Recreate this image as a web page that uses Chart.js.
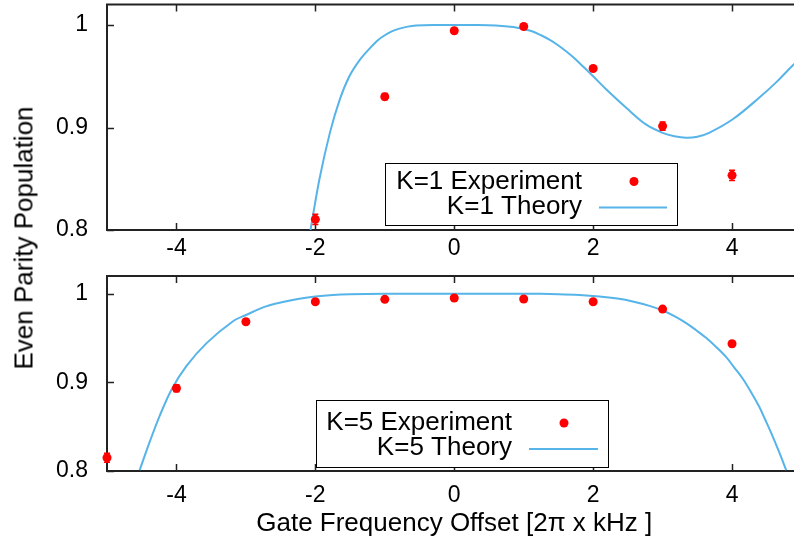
<!DOCTYPE html>
<html><head><meta charset="utf-8">
<script src="https://cdn.jsdelivr.net/npm/chart.js@4"></script>
<style>
html,body{margin:0;padding:0;background:#fff;}
#wrap{position:relative;width:794px;height:542px;overflow:hidden;background:#fff;font-family:"Liberation Sans",Arial,sans-serif;}
#c1{position:absolute;left:0;top:0;}
#c2{position:absolute;left:0;top:262px;}
#ylab{position:absolute;left:24px;top:238px;transform:translate(-50%,-50%) rotate(-90deg);font-size:26px;white-space:nowrap;color:#000;}
</style></head>
<body>
<div id="wrap">
<canvas id="c1" width="806" height="262"></canvas>
<canvas id="c2" width="806" height="280"></canvas>
<div id="ylab">Even Parity Population</div>
</div>
<script>
// ---- data ----
const xTickValues = [-4, -2, 0, 2, 4];
const yTickValues = [0.8, 0.9, 1];
const yTickLabels = ['0.8', '0.9', '1'];

const xExp1 = [-2, -1, 0, 1, 2, 3, 4];
const yExp1 = [0.8104, 0.9301, 0.9944, 0.9985, 0.9576, 0.9014, 0.8533];
const errExp1 = [0.005, 0.003, 0.002, 0.002, 0.002, 0.004, 0.005];

const xTh1 = [-2.07, -1.94, -1.79, -1.65, -1.51, -1.36, -1.22, -1.1, -1.0, -0.9, -0.79, -0.67, -0.55, -0.3, 0, 0.3, 0.6, 0.85, 1.0, 1.13, 1.25, 1.37, 1.49, 1.61, 1.73, 1.85, 2.0, 2.19, 2.48, 2.76, 3.0, 3.17, 3.34, 3.5, 3.67, 4.01, 4.39, 4.65, 4.88, 5.0];
const yTh1 = [0.800, 0.850, 0.895, 0.927, 0.950, 0.966, 0.977, 0.9852, 0.990, 0.9937, 0.9965, 0.9984, 0.9994, 1.0, 1.0, 1.0, 0.9995, 0.998, 0.996, 0.9937, 0.990, 0.9857, 0.9805, 0.9743, 0.9675, 0.9598, 0.950, 0.937, 0.919, 0.903, 0.8948, 0.8915, 0.890, 0.891, 0.8948, 0.908, 0.929, 0.945, 0.961, 0.968];

const xExp5 = [-5, -4, -3, -2, -1, 0, 1, 2, 3, 4];
const yExp5 = [0.815, 0.8934, 0.9684, 0.991, 0.9937, 0.9952, 0.994, 0.991, 0.9827, 0.9435];
const errExp5 = [0.005, 0.004, 0.002, 0.002, 0.002, 0.002, 0.002, 0.002, 0.002, 0.003];

const xTh5 = [-4.53, -4.38, -4.24, -4.07, -3.86, -3.57, -3.19, -2.99, -2.71, -2.45, -2.23, -2.0, -1.75, -1.5, -1, 0, 1, 1.5, 1.8, 2.09, 2.35, 2.57, 2.8, 3.0, 3.17, 3.34, 3.48, 3.63, 3.77, 3.91, 4.03, 4.15, 4.27, 4.39, 4.48, 4.58, 4.68, 4.78];
const yTh5 = [0.801, 0.834, 0.8625, 0.892, 0.918, 0.944, 0.9687, 0.9763, 0.9857, 0.991, 0.9944, 0.997, 0.9987, 0.9995, 1, 1, 1, 0.9995, 0.9987, 0.997, 0.9945, 0.9913, 0.9866, 0.9811, 0.9748, 0.9669, 0.959, 0.950, 0.940, 0.929, 0.917, 0.9047, 0.8895, 0.8727, 0.8575, 0.840, 0.821, 0.801];

const seriesLabels = ['K=1 Experiment', 'K=1 Theory', 'K=5 Experiment', 'K=5 Theory'];

// ---- styles ----
const RED = '#ff0000';
const BLUE = '#56b4e9';
const FONT = '"Liberation Sans", Arial, sans-serif';

const pts = (xs, ys) => xs.map((x, i) => ({x: x, y: ys[i]}));

// frame + inward ticks
const framePlugin = {
  id: 'frame',
  beforeDatasetsDraw(chart) {
    const {ctx, chartArea: a, scales} = chart;
    ctx.save();
    ctx.strokeStyle = '#222';
    ctx.lineWidth = 1.5;
    const L = 7;
    ctx.beginPath();
    xTickValues.forEach(v => {
      const px = Math.round(scales.x.getPixelForValue(v)) + 0.5;
      ctx.moveTo(px, a.bottom); ctx.lineTo(px, a.bottom - L);
      ctx.moveTo(px, a.top); ctx.lineTo(px, a.top + L);
    });
    yTickValues.forEach(v => {
      const py = Math.round(scales.y.getPixelForValue(v)) + 0.5;
      ctx.moveTo(a.left, py); ctx.lineTo(a.left + L, py);
      ctx.moveTo(a.right, py); ctx.lineTo(a.right - L, py);
    });
    ctx.stroke();
    ctx.lineWidth = 2;
    ctx.strokeRect(a.left, a.top, a.right - a.left, a.bottom - a.top);
    ctx.restore();
  }
};

// error bars
const errorPlugin = {
  id: 'errbars',
  afterDatasetsDraw(chart) {
    const {ctx, scales} = chart;
    ctx.save();
    chart.data.datasets.forEach(ds => {
      if (!ds.errors) return;
      ctx.strokeStyle = ds.backgroundColor;
      ctx.lineWidth = 1.5;
      ds.data.forEach((p, i) => {
        const e = ds.errors[i];
        const px = scales.x.getPixelForValue(p.x);
        const y0 = scales.y.getPixelForValue(p.y - e);
        const y1 = scales.y.getPixelForValue(p.y + e);
        ctx.beginPath();
        ctx.moveTo(px, y0); ctx.lineTo(px, y1);
        ctx.moveTo(px - 3, y0); ctx.lineTo(px + 3, y0);
        ctx.moveTo(px - 3, y1); ctx.lineTo(px + 3, y1);
        ctx.stroke();
      });
    });
    ctx.restore();
  }
};

// legend drawn inside plot area
const boxLegendPlugin = {
  id: 'boxLegend',
  afterDatasetsDraw(chart, args, o) {
    const {ctx} = chart;
    const ds = chart.data.datasets;
    ctx.save();
    ctx.fillStyle = '#fff';
    ctx.fillRect(o.box[0], o.box[1], o.box[2] - o.box[0], o.box[3] - o.box[1]);
    ctx.strokeStyle = '#000';
    ctx.lineWidth = 1;
    ctx.strokeRect(o.box[0] + 0.5, o.box[1] + 0.5, o.box[2] - o.box[0], o.box[3] - o.box[1]);
    ctx.font = o.fontSize + 'px ' + FONT;
    ctx.fillStyle = '#000';
    ctx.textAlign = 'right';
    ctx.textBaseline = 'middle';
    ctx.fillText(ds[0].label, o.textRight, o.rows[0]);
    ctx.fillText(ds[1].label, o.textRight, o.rows[1]);
    ctx.fillStyle = ds[0].backgroundColor;
    ctx.beginPath();
    ctx.arc(o.markerX, o.rows[0], 4.5, 0, Math.PI * 2);
    ctx.fill();
    ctx.strokeStyle = ds[1].borderColor;
    ctx.lineWidth = 2;
    ctx.beginPath();
    ctx.moveTo(o.lineX[0], o.rows[1] + 1); ctx.lineTo(o.lineX[1], o.rows[1] + 1);
    ctx.stroke();
    ctx.restore();
  }
};

function makeChart(canvasId, expX, expY, expErr, thX, thY, labA, labB, layoutPad, xAxisH, xTickPad, showTitle, legendOpts) {
  return new Chart(document.getElementById(canvasId), {
    type: 'scatter',
    data: {
      datasets: [
        {label: labA, data: pts(expX, expY), errors: expErr, backgroundColor: RED, borderColor: RED,
         pointRadius: 4.5, pointBorderWidth: 0, pointHoverRadius: 4.5, showLine: false, clip: false, order: 0},
        {label: labB, data: pts(thX, thY), borderColor: BLUE, backgroundColor: BLUE, borderWidth: 2,
         pointRadius: 0, showLine: true, tension: 0.35, clip: 0, order: 1}
      ]
    },
    options: {
      responsive: false,
      animation: false,
      devicePixelRatio: 1,
      layout: {padding: layoutPad},
      plugins: {legend: {display: false}, tooltip: {enabled: false}, boxLegend: legendOpts},
      scales: {
        x: {
          type: 'linear', min: -5, max: 5,
          grid: {display: false}, border: {display: false},
          afterBuildTicks: s => { s.ticks = xTickValues.map(v => ({value: v})); },
          afterFit: s => { s.height = xAxisH; s.paddingLeft = 0; s.paddingRight = 0; },
          ticks: {color: '#000', font: {family: FONT, size: 23}, padding: xTickPad, maxRotation: 0, autoSkip: false,
                  callback: v => String(v)},
          title: {display: showTitle, text: 'Gate Frequency Offset [2π x kHz ]', color: '#000',
                  font: {family: FONT, size: 26}, padding: {top: 0, bottom: 3}}
        },
        y: {
          type: 'linear', min: 0.8, max: 1.02,
          grid: {display: false}, border: {display: false},
          afterBuildTicks: s => { s.ticks = yTickValues.map(v => ({value: v})); },
          afterFit: s => { s.width = 107; s.paddingTop = 0; s.paddingBottom = 0; },
          ticks: {color: '#000', font: {family: FONT, size: 23}, padding: 11,
                  callback: (v, i) => yTickLabels[i]}
        }
      }
    },
    plugins: [framePlugin, errorPlugin, boxLegendPlugin]
  });
}

makeChart('c1', xExp1, yExp1, errExp1, xTh1, yTh1, seriesLabels[0], seriesLabels[1],
  {top: 3, left: 0, right: 4, bottom: 0}, 32, -3, false,
  {box: [385, 163, 677, 225], textRight: 582, rows: [181.5, 206.5], markerX: 634, lineX: [599, 667], fontSize: 26});

makeChart('c2', xExp5, yExp5, errExp5, xTh5, yTh5, seriesLabels[2], seriesLabels[3],
  {top: 14, left: 0, right: 4, bottom: 0}, 71, 3, true,
  {box: [316, 138, 608, 205], textRight: 512, rows: [161, 186], markerX: 564, lineX: [529, 598], fontSize: 26});
</script>
</body></html>
